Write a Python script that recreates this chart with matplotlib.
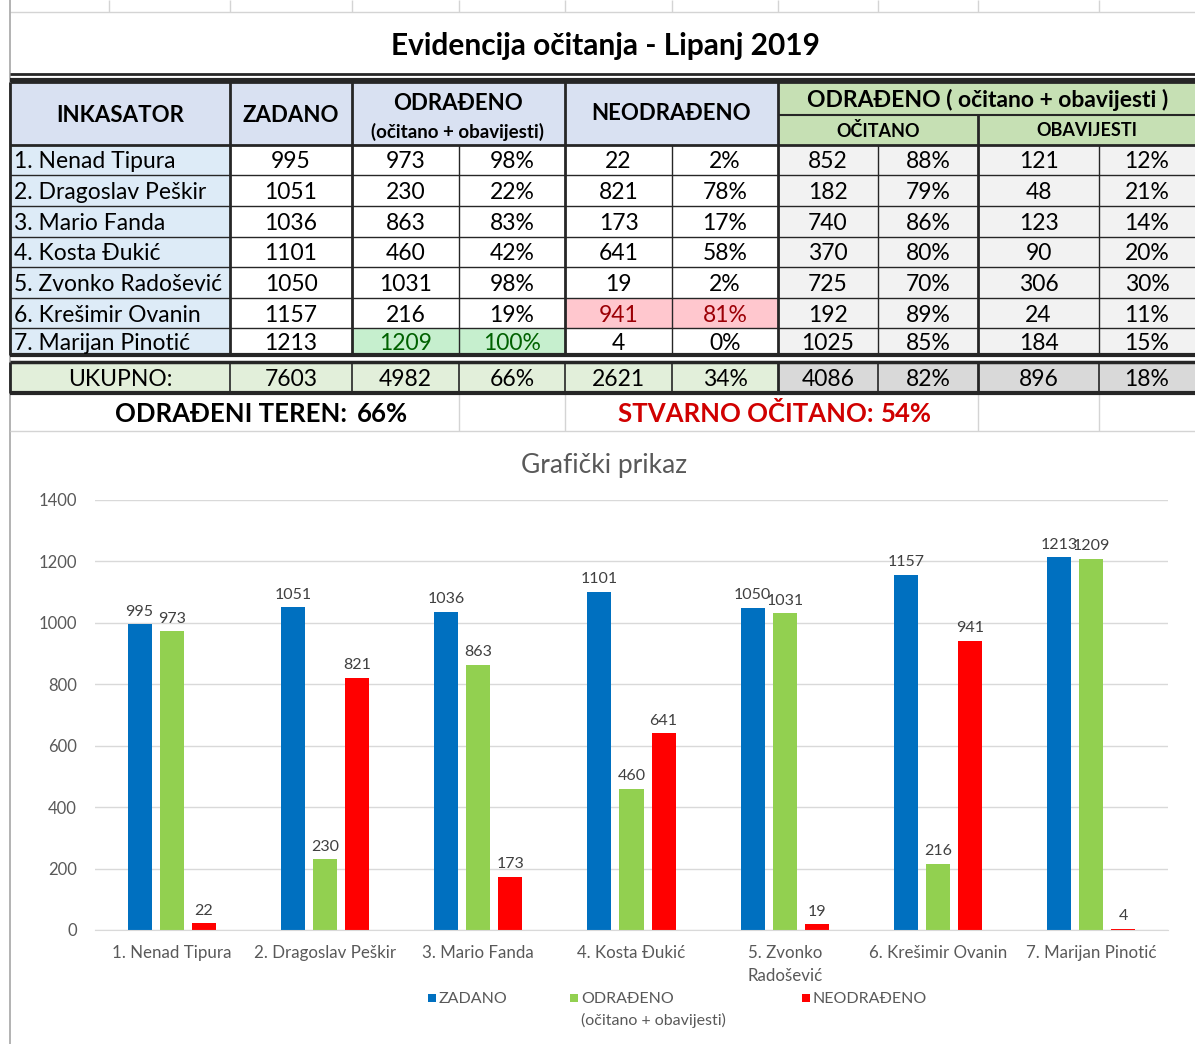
import matplotlib.pyplot as plt
import matplotlib.patches as mpatches
import numpy as np

plt.rcParams['font.family'] = ['Lato', 'DejaVu Sans']

# --- data read from the sheet ---
names = ["1. Nenad Tipura", "2. Dragoslav Peškir", "3. Mario Fanda", "4. Kosta Đukić",
         "5. Zvonko Radošević", "6. Krešimir Ovanin", "7. Marijan Pinotić"]
chart_labels = ["1. Nenad Tipura", "2. Dragoslav Peškir", "3. Mario Fanda", "4. Kosta Đukić",
                "5. Zvonko\nRadošević", "6. Krešimir Ovanin", "7. Marijan Pinotić"]
zadano = [995, 1051, 1036, 1101, 1050, 1157, 1213]
odradeno = [973, 230, 863, 460, 1031, 216, 1209]
odradeno_pct = ["98%", "22%", "83%", "42%", "98%", "19%", "100%"]
neodradeno = [22, 821, 173, 641, 19, 941, 4]
neodradeno_pct = ["2%", "78%", "17%", "58%", "2%", "81%", "0%"]
ocitano = [852, 182, 740, 370, 725, 192, 1025]
ocitano_pct = ["88%", "79%", "86%", "80%", "70%", "89%", "85%"]
obavijesti = [121, 48, 123, 90, 306, 24, 184]
obavijesti_pct = ["12%", "21%", "14%", "20%", "30%", "11%", "15%"]
totals = ["UKUPNO:", "7603", "4982", "66%", "2621", "34%", "4086", "82%", "896", "18%"]
odradeni_teren = "66%"
stvarno_ocitano = "54%"

fig = plt.figure(figsize=(11.95, 10.44), dpi=100)
bg = fig.add_axes([0, 0, 1, 1])
bg.set_xlim(0, 1195)
bg.set_ylim(1044, 0)
bg.axis('off')

cols = [10, 230, 352, 459, 565, 672, 778, 878, 978, 1099, 1195]
rows = [145, 175, 206, 237, 267, 298, 328, 355]
tot_top, tot_bot = 363, 393


def rect(x0, y0, x1, y1, color):
    bg.add_patch(mpatches.Rectangle((x0, y0), x1 - x0, y1 - y0, facecolor=color, edgecolor='none', zorder=1))


def hline(y, x0, x1, lw=1, c='#262626'):
    bg.plot([x0, x1], [y, y], color=c, lw=lw, zorder=3, solid_capstyle='butt')


def vline(x, y0, y1, lw=1, c='#262626'):
    bg.plot([x, x], [y0, y1], color=c, lw=lw, zorder=3, solid_capstyle='butt')


light = '#D4D4D4'
# faint excel gridlines
hline(12, 10, 1195, 1, light)
for x in [109] + cols[1:-1]:
    vline(x, 0, 12, 1, light)
vline(10, 0, 1044, 1.2, '#A6A6A6')
for x in [459, 565, 978, 1099]:
    vline(x, 393, 431, 1, light)
hline(431, 10, 1195, 1, light)

# title
bg.text(605, 46, "Evidencija očitanja - Lipanj 2019", ha='center', va='center',
        fontsize=21.5, fontweight='bold', color='black', zorder=4)
hline(74, 10, 1195, 2)
hline(80, 10, 1195, 3)

# header fills
rect(10, 82, 778, 145, '#D9E1F2')
rect(778, 82, 1195, 145, '#C6E0B4')
# data fills
rect(10, 145, 230, 355, '#DDEBF7')
rect(778, 145, 1195, 355, '#F2F2F2')
rect(565, rows[5], 778, rows[6], '#FFC7CE')
rect(352, rows[6], 565, rows[7], '#C6EFCE')
rect(10, tot_top, 778, tot_bot, '#E2EFDA')
rect(778, tot_top, 1195, tot_bot, '#D9D9D9')

# header text
hs = 16
bg.text(120, 116, "INKASATOR", ha='center', va='center', fontsize=hs, fontweight='bold', zorder=4)
bg.text(291, 116, "ZADANO", ha='center', va='center', fontsize=hs, fontweight='bold', zorder=4)
bg.text(458, 103, "ODRAĐENO", ha='center', va='center', fontsize=hs, fontweight='bold', zorder=4)
bg.text(458, 132, "(očitano + obavijesti)", ha='center', va='center', fontsize=13.5, fontweight='bold', zorder=4)
bg.text(671, 114, "NEODRAĐENO", ha='center', va='center', fontsize=hs, fontweight='bold', zorder=4)
bg.text(988, 100, "ODRAĐENO ( očitano + obavijesti )", ha='center', va='center', fontsize=16.5,
        fontweight='bold', zorder=4)
bg.text(878, 131, "OČITANO", ha='center', va='center', fontsize=13, fontweight='bold', zorder=4)
bg.text(1087, 131, "OBAVIJESTI", ha='center', va='center', fontsize=13, fontweight='bold', zorder=4)

# data rows
ds = 16.5
for i in range(7):
    yc = (rows[i] + rows[i + 1]) / 2 + 2
    bg.text(14, yc, names[i], ha='left', va='center', fontsize=ds, zorder=4)
    vals = [zadano[i], odradeno[i], odradeno_pct[i], neodradeno[i], neodradeno_pct[i],
            ocitano[i], ocitano_pct[i], obavijesti[i], obavijesti_pct[i]]
    for j, v in enumerate(vals):
        c = 'black'
        if i == 5 and j in (3, 4):
            c = '#9C0006'
        if i == 6 and j in (1, 2):
            c = '#006100'
        bg.text((cols[j + 1] + cols[j + 2]) / 2, yc, str(v), ha='center', va='center',
                fontsize=ds, color=c, zorder=4)

# totals row
yc = (tot_top + tot_bot) / 2 + 2
bg.text(120, yc, totals[0], ha='center', va='center', fontsize=ds, zorder=4)
for j, v in enumerate(totals[1:]):
    bg.text((cols[j + 1] + cols[j + 2]) / 2, yc, v, ha='center', va='center', fontsize=ds, zorder=4)

# table lines
hline(82, 10, 1195, 2)
hline(115, 778, 1195, 1.5)
hline(145, 10, 1195, 2)
for y in rows[1:-1]:
    hline(y, 10, 1195, 1)
hline(355, 10, 1195, 3)
hline(362, 10, 1195, 2.5)
hline(393, 10, 1195, 3)
for x in [10, 230, 352, 565, 778]:
    vline(x, 82, 355, 2)
vline(978, 115, 355, 2)
for x in [459, 672, 878]:
    vline(x, 145, 355, 1)
vline(1099, 145, 355, 1)
for x in cols[:-1]:
    vline(x, 362, 393, 2 if x in (10, 778, 978) else 1.2)

# summary line
bg.text(347, 414, "ODRAĐENI TEREN:", ha='right', va='center', fontsize=18.5, fontweight='bold', zorder=4)
bg.text(357, 414, odradeni_teren, ha='left', va='center', fontsize=18.5, fontweight='bold', zorder=4)
bg.text(874, 414, "STVARNO OČITANO:", ha='right', va='center', fontsize=18.5, fontweight='bold',
        color='#D00000', zorder=4)
bg.text(881, 414, stvarno_ocitano, ha='left', va='center', fontsize=18.5, fontweight='bold',
        color='#D00000', zorder=4)

# --- chart ---
ax = fig.add_axes([95 / 1195, (1044 - 930) / 1044, (1168 - 95) / 1195, (930 - 500) / 1044])
ax.set_facecolor('none')
x = np.arange(len(names))
w = 0.157
off = 0.209
b1 = ax.bar(x - off, zadano, w, color='#0070C0')
b2 = ax.bar(x, odradeno, w, color='#92D050')
b3 = ax.bar(x + off, neodradeno, w, color='#FF0000')
for b in (b1, b2, b3):
    ax.bar_label(b, padding=4, fontsize=11.5, color='#404040')
ax.set_xlim(-0.5, 6.5)
ax.set_ylim(0, 1400)
ax.set_yticks(range(0, 1401, 200))
ax.set_xticks(x)
ax.set_xticklabels(chart_labels, linespacing=1.55)
ax.tick_params(axis='both', length=0, colors='#595959', labelsize=12.2)
ax.tick_params(axis='y', labelsize=12)
ax.tick_params(axis='x', pad=11)
ax.tick_params(axis='y', pad=13)
ax.grid(axis='y', color='#D9D9D9', lw=1)
ax.set_axisbelow(True)
for s in ['top', 'right', 'left']:
    ax.spines[s].set_visible(False)
ax.spines['bottom'].set_color('#D9D9D9')
fig.text(604 / 1195, 1 - 466 / 1044, "Grafički prikaz", ha='center', va='center', fontsize=19, color='#595959')

# legend
leg = [(428, "ZADANO", '#0070C0'), (570, "ODRAĐENO\n(očitano + obavijesti)", '#92D050'),
       (802, "NEODRAĐENO", '#FF0000')]
for lx, txt, c in leg:
    bg.add_patch(mpatches.Rectangle((lx, 994), 8, 8, facecolor=c, edgecolor='none', zorder=4))
    bg.text(lx + 11, 992, txt, ha='left', va='top', fontsize=11.5, color='#595959', linespacing=1.6, zorder=4)

fig.savefig('out.png', dpi=100)
